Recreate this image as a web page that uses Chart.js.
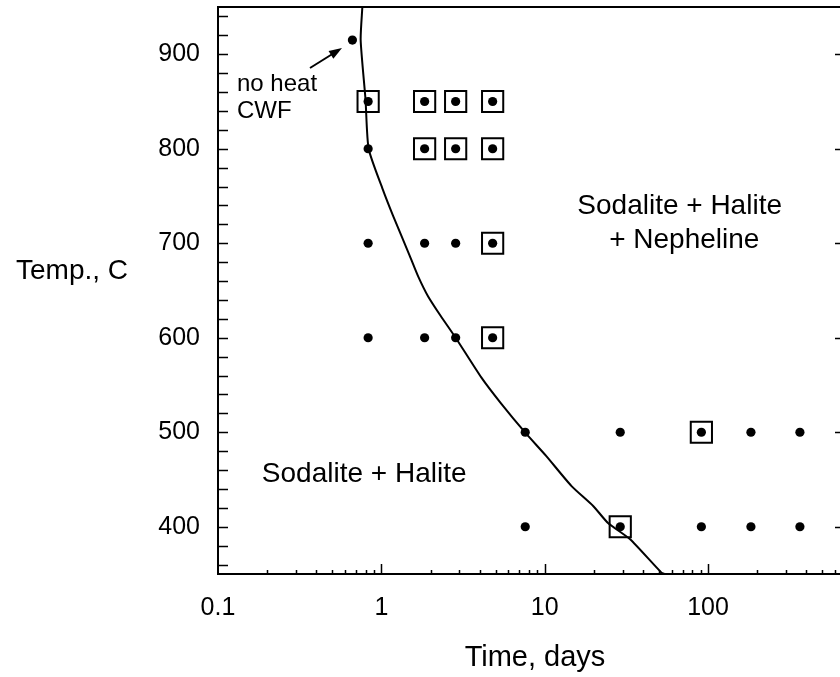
<!DOCTYPE html>
<html>
<head>
<meta charset="utf-8">
<title>Sodalite phase stability</title>
<script src="https://cdn.jsdelivr.net/npm/chart.js@4/dist/chart.umd.min.js"></script>
<style>
  html, body { margin: 0; padding: 0; background: #fff; overflow: hidden; }
  #wrap { width: 850px; height: 677px; }
</style>
</head>
<body>
<div id="wrap"><canvas id="grafico" width="850" height="677"></canvas></div>
<script>
// heat treatment runs: time (days) and temperature (C)
const ensayoTiempo = [0.83, 1.84, 2.85, 4.8,
                      0.83, 1.84, 2.85, 4.8,
                      0.83, 1.84, 2.85, 4.8,
                      0.83, 1.84, 2.85, 4.8,
                      7.6, 29, 91, 183, 365,
                      7.6, 29, 91, 183, 365];
const ensayoTemp   = [850, 850, 850, 850,
                      800, 800, 800, 800,
                      700, 700, 700, 700,
                      600, 600, 600, 600,
                      500, 500, 500, 500, 500,
                      400, 400, 400, 400, 400];

// runs where nepheline was found (boxed)
const nefTiempo = [0.83, 1.84, 2.85, 4.8, 1.84, 2.85, 4.8, 4.8, 4.8, 91, 29];
const nefTemp   = [850, 850, 850, 850, 800, 800, 800, 700, 600, 500, 400];

// unheated CWF reference
const sinCalorTiempo = [0.665];
const sinCalorTemp   = [915];

// phase boundary
const limiteTiempo = [0.765, 0.747, 0.80, 0.836, 1.02, 1.18, 1.49, 1.68, 1.93, 2.31, 2.85,
                      4.09, 5.43, 7.65, 10.2, 14.6, 19.8, 24.4, 33.2, 51.8, 54.3];
const limiteTemp   = [950, 915, 852, 800, 757, 729, 687, 665, 644, 623, 600,
                      558, 530, 499, 475, 443, 422, 404, 387, 351.5, 350];

const xEtiquetas = [0.1, 1, 10, 100];
const yEtiquetas = [400, 500, 600, 700, 800, 900];

const fuente = '"Liberation Sans", Arial, sans-serif';

function pares(xs, ys) {
  return xs.map((x, i) => ({ x: x, y: ys[i] }));
}

// frame, inward ticks, titles and notes
const decorado = {
  id: 'decorado',
  afterDraw(chart) {
    const ctx = chart.ctx;
    const a = chart.chartArea;
    const xs = chart.scales.x;
    const ys = chart.scales.y;
    ctx.save();
    ctx.strokeStyle = '#000';
    ctx.fillStyle = '#000';

    // ticks
    ctx.lineWidth = 1.5;
    ctx.beginPath();
    for (let v = 360; v < 950; v += 20) {
      const py = Math.round(ys.getPixelForValue(v)) + 0.5;
      ctx.moveTo(a.left, py);
      ctx.lineTo(a.left + 10, py);
    }
    for (const v of yEtiquetas) {
      const py = Math.round(ys.getPixelForValue(v)) + 0.5;
      ctx.moveTo(a.right, py);
      ctx.lineTo(a.right - 8, py);
    }
    for (let e = -1; e <= 2; e++) {
      for (let k = 1; k <= 9; k++) {
        const v = k * Math.pow(10, e);
        if (v <= xs.min || v >= xs.max) continue;
        const px = Math.round(xs.getPixelForValue(v)) + 0.5;
        ctx.moveTo(px, a.bottom);
        ctx.lineTo(px, a.bottom - (k === 1 ? 10 : 4));
      }
    }
    ctx.stroke();

    // frame
    ctx.lineWidth = 2;
    ctx.strokeRect(a.left, a.top, a.right - a.left, a.bottom - a.top);

    // axis titles
    ctx.font = '28px ' + fuente;
    ctx.textAlign = 'center';
    ctx.textBaseline = 'middle';
    ctx.fillText('Temp., C', 72, 271);
    ctx.font = '29px ' + fuente;
    ctx.fillText('Time, days', 535, 658);

    // phase fields
    ctx.font = '28px ' + fuente;
    ctx.fillText('Sodalite + Halite', xs.getPixelForValue(0.785), ys.getPixelForValue(456));
    ctx.fillText('Sodalite + Halite', xs.getPixelForValue(67), ys.getPixelForValue(739));
    ctx.fillText('+ Nepheline', xs.getPixelForValue(71.5), ys.getPixelForValue(703));

    // note with arrow
    ctx.font = '24px ' + fuente;
    ctx.textAlign = 'left';
    ctx.textBaseline = 'alphabetic';
    ctx.fillText('no heat', 237, 91);
    ctx.fillText('CWF', 237, 118);

    const x0 = 310, y0 = 68, x1 = 342, y1 = 48;
    const ang = Math.atan2(y1 - y0, x1 - x0);
    ctx.lineWidth = 2;
    ctx.beginPath();
    ctx.moveTo(x0, y0);
    ctx.lineTo(x1 - 8 * Math.cos(ang), y1 - 8 * Math.sin(ang));
    ctx.stroke();
    ctx.beginPath();
    ctx.moveTo(x1, y1);
    ctx.lineTo(x1 - 13 * Math.cos(ang) + 4.5 * Math.sin(ang), y1 - 13 * Math.sin(ang) - 4.5 * Math.cos(ang));
    ctx.lineTo(x1 - 13 * Math.cos(ang) - 4.5 * Math.sin(ang), y1 - 13 * Math.sin(ang) + 4.5 * Math.cos(ang));
    ctx.closePath();
    ctx.fill();
    ctx.restore();
  }
};

const ctx = document.getElementById('grafico').getContext('2d');
const grafico = new Chart(ctx, {
  type: 'scatter',
  data: {
    datasets: [
      {
        label: 'Limite',
        data: pares(limiteTiempo, limiteTemp),
        showLine: true,
        borderColor: '#000',
        borderWidth: 2,
        pointRadius: 0,
        tension: 0.2,
        fill: false
      },
      {
        label: 'Nefelina',
        data: pares(nefTiempo, nefTemp),
        pointStyle: 'rect',
        pointRadius: 15,
        pointBorderWidth: 2,
        pointBorderColor: '#000',
        pointBackgroundColor: 'rgba(0,0,0,0)'
      },
      {
        label: 'Ensayos',
        data: pares(ensayoTiempo, ensayoTemp),
        pointRadius: 4.6,
        pointBorderWidth: 0,
        pointBackgroundColor: '#000'
      },
      {
        label: 'Sin calor',
        data: pares(sinCalorTiempo, sinCalorTemp),
        pointRadius: 4.6,
        pointBorderWidth: 0,
        pointBackgroundColor: '#000'
      }
    ]
  },
  options: {
    responsive: false,
    animation: false,
    layout: { autoPadding: false, padding: { left: 0, top: 7, right: 7, bottom: 0 } },
    plugins: {
      legend: { display: false },
      tooltip: { enabled: false }
    },
    scales: {
      x: {
        type: 'logarithmic',
        min: 0.1,
        max: 670,
        grid: { display: false, drawTicks: false },
        border: { display: false },
        afterBuildTicks: (s) => { s.ticks = xEtiquetas.map(v => ({ value: v })); },
        afterFit: (s) => { s.height = 103; s.paddingLeft = 0; s.paddingRight = 0; },
        ticks: {
          color: '#000',
          padding: 19,
          maxRotation: 0,
          autoSkip: false,
          font: { family: fuente, size: 25 },
          callback: (v) => String(v)
        }
      },
      y: {
        type: 'linear',
        min: 350,
        max: 950,
        grid: { display: false, drawTicks: false },
        border: { display: false },
        afterBuildTicks: (s) => { s.ticks = yEtiquetas.map(v => ({ value: v })); },
        afterFit: (s) => { s.width = 218; s.paddingTop = 0; s.paddingBottom = 0; },
        ticks: {
          color: '#000',
          padding: 18,
          font: { family: fuente, size: 25 },
          callback: (v) => String(v)
        }
      }
    }
  },
  plugins: [decorado]
});
</script>
</body>
</html>
